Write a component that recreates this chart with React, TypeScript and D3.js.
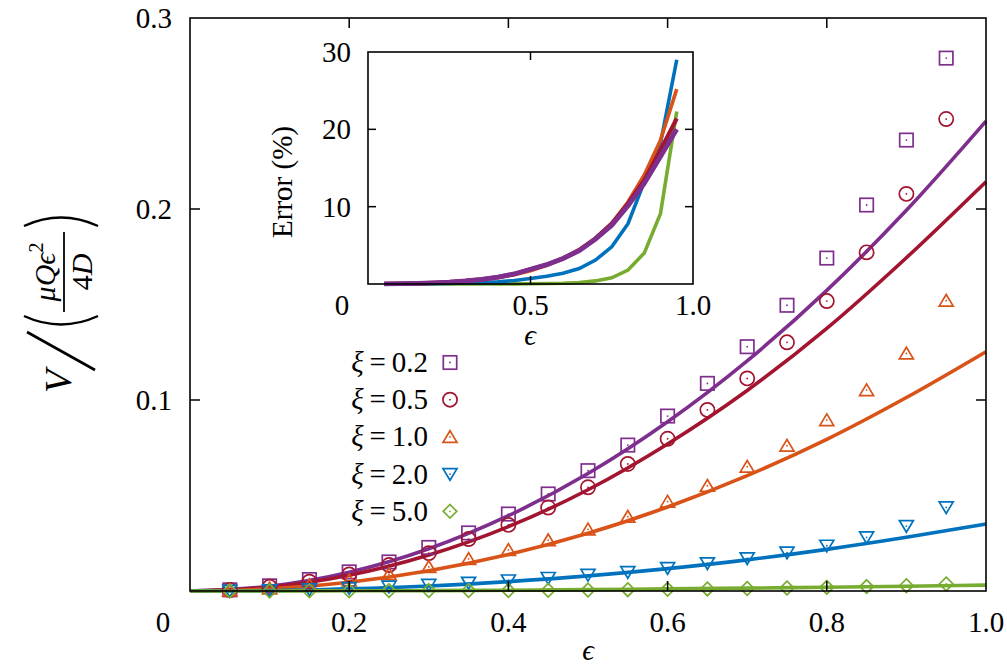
import * as d3 from 'd3';

// fitted curves, ε = 0 … 1.0
const fitEps = [0, 0.1, 0.2, 0.3, 0.4, 0.5, 0.6, 0.7, 0.8, 0.9, 1.0];
const fitXi02 = [0, 0.0025, 0.0098, 0.0221, 0.0394, 0.0615, 0.0886, 0.1205, 0.1574, 0.1993, 0.246];
const fitXi05 = [0, 0.002, 0.0082, 0.0188, 0.0337, 0.053, 0.077, 0.105, 0.1375, 0.1745, 0.2143];
const fitXi10 = [0, 0.0011, 0.0046, 0.0106, 0.0191, 0.0302, 0.044, 0.0604, 0.0794, 0.1013, 0.1253];
const fitXi20 = [0, 0.0002, 0.0011, 0.0026, 0.0049, 0.0079, 0.0117, 0.0163, 0.0218, 0.0281, 0.0351];
const fitXi50 = [0, 0, 0.0001, 0.0002, 0.0004, 0.0007, 0.0011, 0.0015, 0.002, 0.0025, 0.0031];

// simulation points
const dataEps = [0.05, 0.1, 0.15, 0.2, 0.25, 0.3, 0.35, 0.4, 0.45, 0.5, 0.55, 0.6, 0.65, 0.7, 0.75, 0.8, 0.85, 0.9, 0.95];
const dataXi02 = [0.0006, 0.0027, 0.006, 0.01, 0.0152, 0.0228, 0.0304, 0.0403, 0.0508, 0.063, 0.0764, 0.0916, 0.1087, 0.1279, 0.1496, 0.1743, 0.2021, 0.2361, 0.279];
const dataXi05 = [0.0005, 0.0022, 0.0049, 0.0087, 0.0136, 0.0198, 0.0272, 0.0346, 0.0437, 0.0543, 0.0665, 0.0797, 0.0948, 0.1113, 0.1302, 0.1518, 0.1773, 0.2079, 0.2471];
const dataXi10 = [0.0003, 0.0014, 0.0031, 0.0056, 0.0088, 0.0126, 0.0168, 0.0215, 0.0266, 0.0323, 0.0389, 0.0468, 0.0551, 0.0651, 0.0761, 0.0895, 0.1052, 0.1244, 0.152];
const dataXi20 = [0.0001, 0.0004, 0.0008, 0.0015, 0.0023, 0.0032, 0.0043, 0.0055, 0.0068, 0.0084, 0.0099, 0.012, 0.0145, 0.0171, 0.0201, 0.0237, 0.0281, 0.034, 0.0438];
const dataXi50 = [0, 0, 0.0001, 0.0001, 0.0002, 0.0002, 0.0003, 0.0003, 0.0004, 0.0005, 0.0007, 0.0009, 0.0011, 0.0013, 0.0016, 0.0019, 0.0023, 0.0028, 0.0037];

// inset: error (%)
const errEps = dataEps;
const errXi02 = [0.02, 0.04, 0.08, 0.15, 0.25, 0.4, 0.6, 0.9, 1.3, 1.9, 2.5, 3.3, 4.3, 5.8, 7.6, 10.1, 13.0, 16.5, 20.0];
const errXi05 = [0.02, 0.04, 0.08, 0.15, 0.25, 0.4, 0.6, 0.9, 1.3, 1.9, 2.5, 3.3, 4.4, 5.9, 7.8, 10.4, 13.4, 17.3, 21.4];
const errXi10 = [0.02, 0.04, 0.07, 0.13, 0.22, 0.35, 0.55, 0.8, 1.2, 1.7, 2.4, 3.3, 4.4, 5.9, 7.8, 10.6, 14.1, 18.6, 25.2];
const errXi20 = [0, 0.01, 0.02, 0.04, 0.08, 0.13, 0.2, 0.3, 0.45, 0.7, 1.0, 1.4, 2.0, 3.1, 4.8, 7.8, 13.2, 18.2, 29.0];
const errXi50 = [0, 0, 0, 0, 0, 0, 0, 0, 0.01, 0.03, 0.06, 0.1, 0.2, 0.4, 0.8, 1.8, 4.0, 9.1, 22.3];

const labels = ['ξ\u2009=\u20090.2', 'ξ\u2009=\u20090.5', 'ξ\u2009=\u20091.0', 'ξ\u2009=\u20092.0', 'ξ\u2009=\u20095.0'];
const colors = ['#7E2F8E', '#A2142F', '#D95319', '#0072BD', '#77AC30'];
const markers = ['square', 'circle', 'up', 'down', 'diamond'];

const mainXTicks = [0.2, 0.4, 0.6, 0.8, 1.0];
const mainYTicks = [0.1, 0.2, 0.3];
const insetXTicks = [0.5, 1.0];
const insetYTicks = [10, 20, 30];

const series = labels.map((label, i) => ({
  label,
  color: colors[i],
  marker: markers[i],
  fit: [fitXi02, fitXi05, fitXi10, fitXi20, fitXi50][i],
  data: [dataXi02, dataXi05, dataXi10, dataXi20, dataXi50][i],
  err: [errXi02, errXi05, errXi10, errXi20, errXi50][i],
}));

const FONT = '"Liberation Serif", "Times New Roman", serif';

function Marker({ kind, x, y, color }: { kind: string; x: number; y: number; color: string }) {
  const s = 6.7;
  let shape;
  if (kind === 'square') {
    shape = <rect x={x - s} y={y - s} width={2 * s} height={2 * s} />;
  } else if (kind === 'circle') {
    shape = <circle cx={x} cy={y} r={7.1} />;
  } else if (kind === 'up') {
    shape = <path d={`M${x},${y - 6.2}L${x + 7},${y + 5.5}L${x - 7},${y + 5.5}Z`} />;
  } else if (kind === 'down') {
    shape = <path d={`M${x},${y + 6.2}L${x + 7},${y - 5.5}L${x - 7},${y - 5.5}Z`} />;
  } else {
    shape = <path d={`M${x},${y - 6.8}L${x + 6.8},${y}L${x},${y + 6.8}L${x - 6.8},${y}Z`} />;
  }
  return (
    <g fill="none" stroke={color} strokeWidth={1.7}>
      {shape}
      <circle cx={x} cy={y} r={0.9} fill={color} stroke="none" />
    </g>
  );
}

export default function App() {
  // main frame
  const x = d3.scaleLinear().domain([0, 1]).range([190, 986]);
  const y = d3.scaleLinear().domain([0, 0.3]).range([591, 18]);
  // inset frame
  const ix = d3.scaleLinear().domain([0, 1]).range([368, 693]);
  const iy = d3.scaleLinear().domain([0, 30]).range([284, 52]);

  const fitLine = d3
    .line<number>()
    .x((_, i) => x(fitEps[i]))
    .y((d) => y(d))
    .curve(d3.curveMonotoneX);

  const errLine = d3
    .line<number>()
    .x((_, i) => ix(errEps[i]))
    .y((d) => iy(d));

  const tickLen = 10;
  const iTickLen = 8;

  return (
    <svg
      width={1007}
      height={669}
      style={{ position: 'absolute', left: 0, top: 0, background: '#fff' }}
      fontFamily={FONT}
    >
      <rect width={1007} height={669} fill="#fff" />

      {/* main fitted curves */}
      {series.map((s) => (
        <path key={'f' + s.label} d={fitLine(s.fit) ?? ''} fill="none" stroke={s.color} strokeWidth={3.6} />
      ))}

      {/* main markers */}
      {series.map((s) =>
        s.data.map((v, i) => (
          <Marker key={s.label + i} kind={s.marker} x={x(dataEps[i])} y={y(v)} color={s.color} />
        ))
      )}

      {/* main frame */}
      <rect x={190} y={18} width={796} height={573} fill="none" stroke="#000" strokeWidth={1.6} />
      {mainXTicks.slice(0, -1).map((t) => (
        <g key={'mx' + t} stroke="#000" strokeWidth={1.5}>
          <line x1={x(t)} x2={x(t)} y1={591} y2={591 - tickLen} />
          <line x1={x(t)} x2={x(t)} y1={18} y2={18 + tickLen} />
        </g>
      ))}
      {mainYTicks.slice(0, -1).map((t) => (
        <g key={'my' + t} stroke="#000" strokeWidth={1.5}>
          <line x1={190} x2={190 + tickLen} y1={y(t)} y2={y(t)} />
          <line x1={986} x2={986 - tickLen} y1={y(t)} y2={y(t)} />
        </g>
      ))}
      {mainXTicks.map((t) => (
        <text key={'mxl' + t} x={x(t)} y={632} textAnchor="middle" fontSize={29}>
          {t.toFixed(1)}
        </text>
      ))}
      {mainYTicks.map((t) => (
        <text key={'myl' + t} x={172} y={y(t) + 10} textAnchor="end" fontSize={29}>
          {t.toFixed(1)}
        </text>
      ))}
      <text x={163} y={632} textAnchor="middle" fontSize={29}>0</text>
      <text x={588} y={660} textAnchor="middle" fontSize={29} fontStyle="italic">ϵ</text>

      {/* y-axis label V/(μQε²/4D) */}
      <g transform="translate(62,300) rotate(-90)" fill="#000">
        <text x={-93} y={9} fontSize={38} fontStyle="italic">V</text>
        <line x1={-70} y1={33} x2={-32} y2={-35} stroke="#000" strokeWidth={2.6} />
        <path d="M-16,-38 Q-33,-1 -16,36" fill="none" stroke="#000" strokeWidth={2.4} />
        <path d="M74,-38 Q91,-1 74,36" fill="none" stroke="#000" strokeWidth={2.4} />
        <line x1={-12} x2={68} y1={2} y2={2} stroke="#000" strokeWidth={1.8} />
        <text x={28} y={-7} textAnchor="middle" fontSize={30} fontStyle="italic">
          μQϵ<tspan fontSize={20} dy={-12} fontStyle="normal">2</tspan>
        </text>
        <text x={28} y={30} textAnchor="middle" fontSize={30}>
          4<tspan fontStyle="italic">D</tspan>
        </text>
      </g>

      {/* legend */}
      {series.map((s, i) => (
        <g key={'lg' + s.label}>
          <text x={428} y={372 + i * 37.2} textAnchor="end" fontSize={29}>
            <tspan fontStyle="italic">ξ</tspan>
            {s.label.slice(1)}
          </text>
          <Marker kind={s.marker} x={450} y={362.5 + i * 37.2} color={s.color} />
        </g>
      ))}

      {/* inset */}
      <rect x={368} y={52} width={325} height={232} fill="#fff" />
      {[...series].reverse().map((s) => (
        <path
          key={'e' + s.label}
          d={errLine(s.err) ?? ''}
          fill="none"
          stroke={s.color}
          strokeWidth={s.marker === 'square' ? 4.8 : s.marker === 'circle' ? 4.2 : 3.6}
        />
      ))}
      <rect x={368} y={52} width={325} height={232} fill="none" stroke="#000" strokeWidth={1.6} />
      {insetXTicks.slice(0, -1).map((t) => (
        <g key={'ix' + t} stroke="#000" strokeWidth={1.5}>
          <line x1={ix(t)} x2={ix(t)} y1={284} y2={284 - iTickLen} />
          <line x1={ix(t)} x2={ix(t)} y1={52} y2={52 + iTickLen} />
        </g>
      ))}
      {insetYTicks.slice(0, -1).map((t) => (
        <g key={'iy' + t} stroke="#000" strokeWidth={1.5}>
          <line x1={368} x2={368 + iTickLen} y1={iy(t)} y2={iy(t)} />
          <line x1={693} x2={693 - iTickLen} y1={iy(t)} y2={iy(t)} />
        </g>
      ))}
      {insetXTicks.map((t) => (
        <text key={'ixl' + t} x={ix(t)} y={315} textAnchor="middle" fontSize={29}>
          {t.toFixed(1)}
        </text>
      ))}
      {insetYTicks.map((t) => (
        <text key={'iyl' + t} x={351} y={iy(t) + 10} textAnchor="end" fontSize={29}>
          {t}
        </text>
      ))}
      <text x={342} y={315} textAnchor="middle" fontSize={29}>0</text>
      <text x={530} y={345} textAnchor="middle" fontSize={29} fontStyle="italic">ϵ</text>
      <text transform="translate(292,182) rotate(-90)" textAnchor="middle" fontSize={29}>
        Error (%)
      </text>
    </svg>
  );
}
